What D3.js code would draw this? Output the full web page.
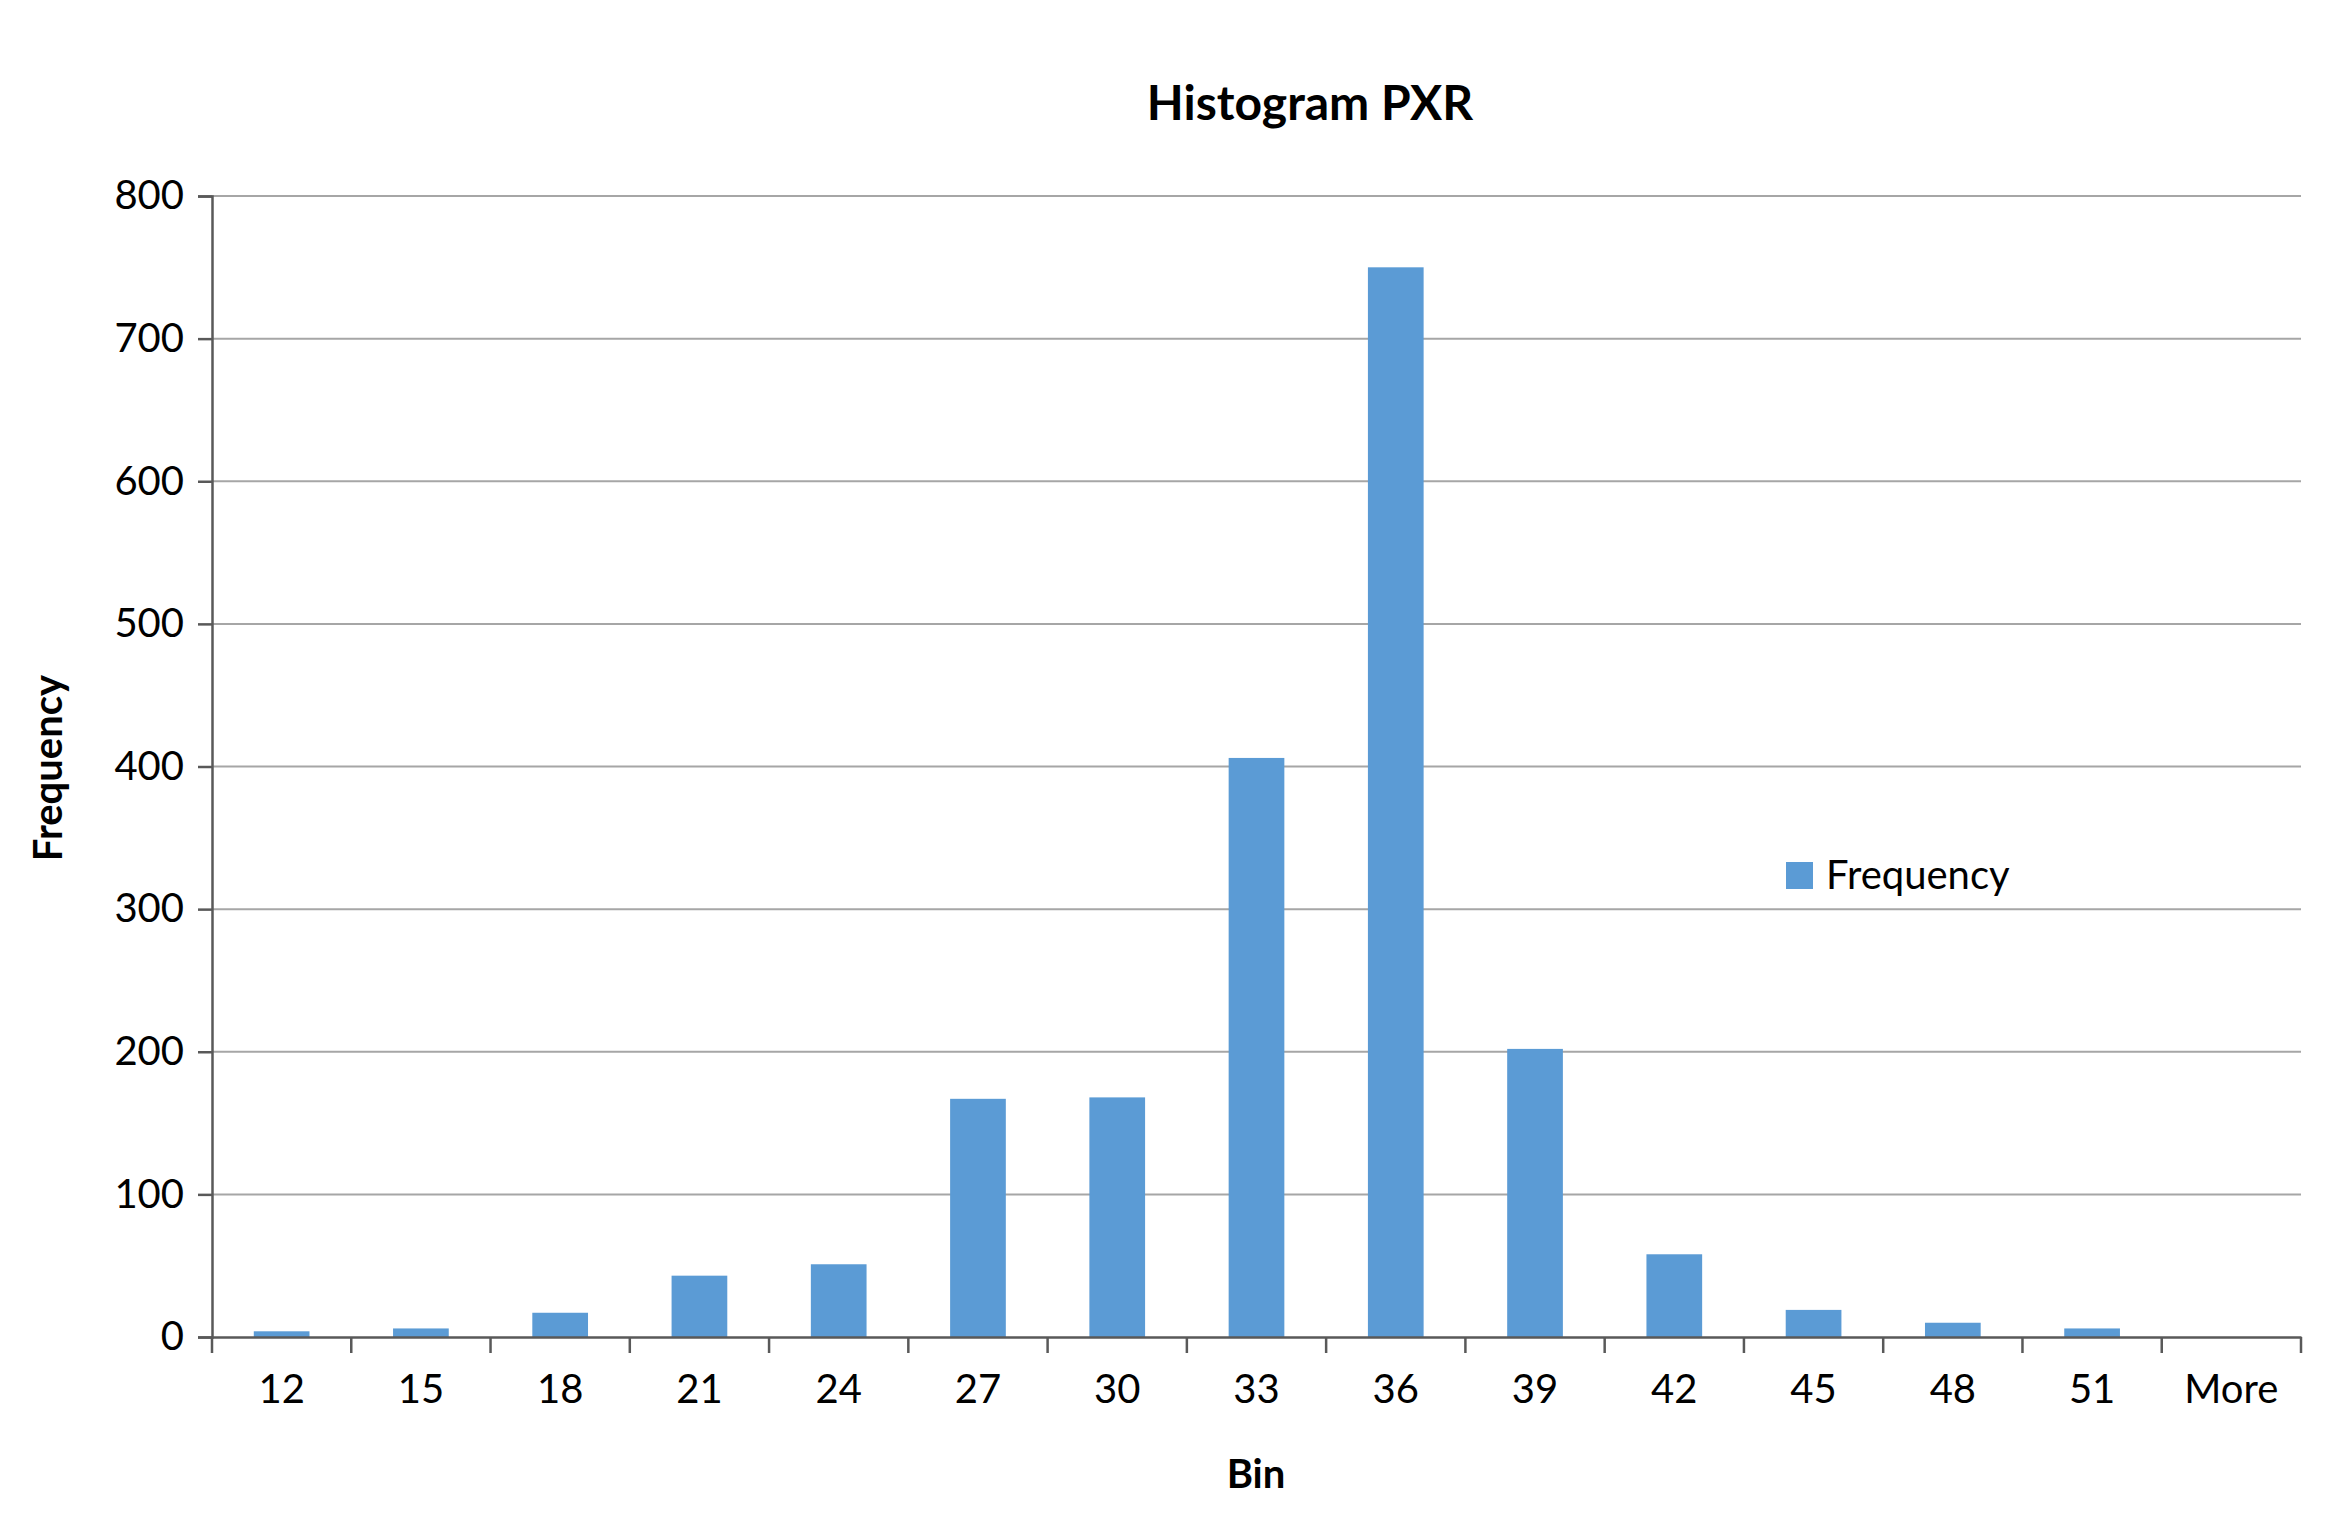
<!DOCTYPE html>
<html><head><meta charset="utf-8">
<script src="https://cdn.jsdelivr.net/npm/d3@7"></script>
<style>body{margin:0;background:#fff}text{font-family:Lato,"Open Sans",sans-serif}</style>
</head><body><svg id="c" width="2349" height="1536"></svg>
<script>
const categories = ["12","15","18","21","24","27","30","33","36","39","42","45","48","51","More"];
const frequency = [4,6,17,43,51,167,168,406,750,202,58,19,10,6,0];
const yTicks = [0,100,200,300,400,500,600,700,800];

const svg = d3.select("#c");
const m = {l:212, r:2301, t:196, b:1337};
const x = d3.scaleBand().domain(categories).range([m.l, m.r]).paddingInner(0.6).paddingOuter(0.3);
const xb = d3.scaleBand().domain(categories).range([m.l, m.r]);
const y = d3.scaleLinear().domain([0,800]).range([m.b, m.t]);

svg.append("g").selectAll("line").data(yTicks.slice(1)).join("line")
  .attr("x1", m.l).attr("x2", m.r).attr("y1", d=>y(d)).attr("y2", d=>y(d))
  .attr("stroke","#a6a6a6").attr("stroke-width",2);

svg.append("g").selectAll("rect").data(frequency).join("rect")
  .attr("x",(d,i)=>xb(categories[i]) + xb.bandwidth()*0.3)
  .attr("width", xb.bandwidth()*0.4)
  .attr("y", d=>y(d)).attr("height", d=>m.b-y(d)).attr("fill","#5b9bd5");

const ya = svg.append("g").attr("transform",`translate(${m.l},0)`)
  .call(d3.axisLeft(y).tickValues(yTicks).tickSize(14).tickPadding(14));
const xa = svg.append("g").attr("transform",`translate(0,${m.b})`)
  .call(d3.axisBottom(xb).tickSize(0).tickPadding(38));
// x ticks at band boundaries
svg.append("g").selectAll("line").data(categories.map(c=>xb(c)).concat([m.r])).join("line")
  .attr("x1",d=>d).attr("x2",d=>d).attr("y1",m.b).attr("y2",m.b+16).attr("stroke","#595959").attr("stroke-width",2.5);
[ya,xa].forEach(a=>{a.selectAll("path,line").attr("stroke","#595959").attr("stroke-width",2.5);
  a.selectAll("text").attr("font-size",40).attr("fill","#000");});
xa.selectAll("text").attr("dy","0.71em");

svg.append("text").attr("x",1310).attr("y",120).attr("text-anchor","middle")
  .attr("font-size",48).attr("font-weight","bold").text("Histogram PXR");
svg.append("text").attr("x",1256).attr("y",1488).attr("text-anchor","middle")
  .attr("font-size",40).attr("font-weight","bold").text("Bin");
svg.append("text").attr("transform","translate(62,768) rotate(-90)").attr("text-anchor","middle")
  .attr("font-size",40).attr("font-weight","bold").text("Frequency");

svg.append("rect").attr("x",1786).attr("y",862).attr("width",27).attr("height",27).attr("fill","#5b9bd5");
svg.append("text").attr("x",1826).attr("y",889).attr("font-size",40).text("Frequency");
</script></body></html>
